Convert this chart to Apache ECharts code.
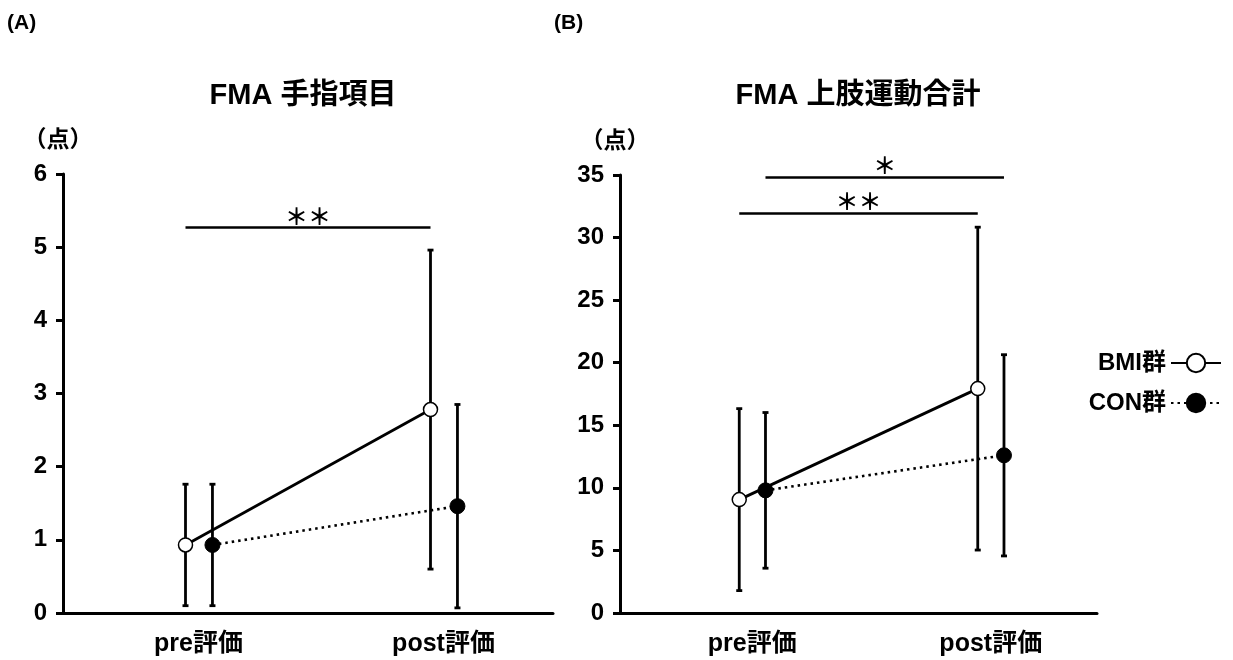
<!DOCTYPE html>
<html>
<head>
<meta charset="utf-8">
<script src="https://cdn.jsdelivr.net/npm/echarts@6/dist/echarts.min.js"></script>
<style>
  html, body { margin: 0; padding: 0; background: #fff; }
  #main { width: 1233px; height: 660px; }
</style>
</head>
<body>
<div id="main"></div>
<script>
// 評価時期
const categories = ['pre評価', 'post評価'];
const groups = ['BMI群', 'CON群'];
// 群ごとの横ずれ（カテゴリ幅に対する比）
const groupOffset = [0, 0.11];

// (A) FMA 手指項目 平均と標準偏差
const fingerBmiMean = [0.93, 2.78];
const fingerBmiSd = [0.83, 2.18];
const fingerConMean = [0.93, 1.46];
const fingerConSd = [0.83, 1.39];

// (B) FMA 上肢運動合計 平均と標準偏差
const totalBmiMean = [9.06, 17.93];
const totalBmiSd = [7.27, 12.9];
const totalConMean = [9.8, 12.6];
const totalConSd = [6.22, 8.04];

// 有意差の表示 [ラベル, 高さ, 始点の群, 終点の群]
const fingerSig = [['＊＊', 5.27, 0, 0]];
const totalSig = [['＊', 34.84, 1, 1], ['＊＊', 31.96, 0, 0]];

const FONT = "Arial, 'Liberation Sans', 'Noto Sans CJK JP', sans-serif";

function xPos(i, g) {
  return i + 0.5 + groupOffset[g];
}

function errRows(mean, sd, g) {
  return mean.map(function (m, i) {
    return [xPos(i, g), m - sd[i], m + sd[i]];
  });
}

function lineRows(mean, g) {
  return mean.map(function (m, i) { return [xPos(i, g), m]; });
}

function renderErr(params, api) {
  let x = api.value(0);
  let top = api.coord([x, api.value(2)]);
  let bot = api.coord([x, api.value(1)]);
  let w = 3;
  let st = { stroke: '#000', lineWidth: 2.8 };
  return {
    type: 'group',
    children: [
      { type: 'line', shape: { x1: top[0], y1: top[1], x2: bot[0], y2: bot[1] }, style: st },
      { type: 'line', shape: { x1: top[0] - w, y1: top[1], x2: top[0] + w, y2: top[1] }, style: st },
      { type: 'line', shape: { x1: bot[0] - w, y1: bot[1], x2: bot[0] + w, y2: bot[1] }, style: st }
    ]
  };
}

function sigLines(list) {
  return list.map(function (s) {
    return [
      { coord: [xPos(0, s[2]), s[1]], label: { formatter: s[0] } },
      { coord: [xPos(1, s[3]), s[1]] }
    ];
  });
}

function catAxis(gi) {
  return {
    type: 'category', gridIndex: gi, data: categories, boundaryGap: true,
    axisLine: { lineStyle: { color: '#000', width: 3 } },
    axisTick: { show: false },
    axisLabel: {
      color: '#000', fontFamily: FONT, fontWeight: 'bold', fontSize: 25,
      margin: 19, padding: [0, 0, 0, 26]
    }
  };
}

function valXAxis(gi) {
  return { type: 'value', gridIndex: gi, min: 0, max: 2, show: false };
}

function yAxis(gi, max, interval) {
  return {
    type: 'value', gridIndex: gi, min: 0, max: max, interval: interval,
    name: '（点）', nameLocation: 'end', nameGap: 22,
    nameTextStyle: { color: '#000', fontFamily: FONT, fontWeight: 'bold', fontSize: 23, padding: [0, 10, 0, 0] },
    axisLine: { show: true, lineStyle: { color: '#000', width: 3 } },
    axisTick: { show: true, length: 7, lineStyle: { color: '#000', width: 3 } },
    splitLine: { show: false },
    axisLabel: { color: '#000', fontFamily: FONT, fontWeight: 'bold', fontSize: 24, margin: 16 }
  };
}

function chartSeries(xi, yi, bmiMean, bmiSd, conMean, conSd, sig) {
  return [
    {
      name: 'err-bmi', type: 'custom', xAxisIndex: xi, yAxisIndex: yi, z: 2,
      renderItem: renderErr, encode: { x: 0, y: [1, 2] },
      data: errRows(bmiMean, bmiSd, 0), silent: true
    },
    {
      name: 'err-con', type: 'custom', xAxisIndex: xi, yAxisIndex: yi, z: 2,
      renderItem: renderErr, encode: { x: 0, y: [1, 2] },
      data: errRows(conMean, conSd, 1), silent: true
    },
    {
      name: groups[1], type: 'line', xAxisIndex: xi, yAxisIndex: yi, z: 3,
      data: lineRows(conMean, 1),
      symbol: 'circle', symbolSize: 15,
      itemStyle: { color: '#000', borderColor: '#000', borderWidth: 1 },
      lineStyle: { color: '#000', width: 2.6, type: [2.5, 4] }
    },
    {
      name: groups[0], type: 'line', xAxisIndex: xi, yAxisIndex: yi, z: 4,
      data: lineRows(bmiMean, 0),
      symbol: 'circle', symbolSize: 14,
      itemStyle: { color: '#fff', borderColor: '#000', borderWidth: 1.5 },
      lineStyle: { color: '#000', width: 2.8 },
      markLine: {
        silent: true, symbol: ['none', 'none'],
        lineStyle: { color: '#000', width: 2.6, type: 'solid' },
        label: {
          show: true, position: 'middle', distance: 0, color: '#000',
          fontFamily: "'Noto Sans CJK JP', sans-serif", fontWeight: 'bold', fontSize: 23
        },
        data: sigLines(sig)
      }
    }
  ];
}

let myChart = echarts.init(document.getElementById('main'));
let option = {
  animation: false,
  backgroundColor: '#fff',
  grid: [
    { left: 63, right: 680, top: 174, bottom: 47 },
    { left: 620, right: 136, top: 175, bottom: 47 }
  ],
  xAxis: [catAxis(0), valXAxis(0), catAxis(1), valXAxis(1)],
  yAxis: [yAxis(0, 6, 1), yAxis(1, 35, 5)],
  legend: {
    data: groups, orient: 'vertical', right: 6, top: 346, align: 'right',
    itemWidth: 50, itemHeight: 23, itemGap: 16,
    textStyle: { color: '#000', fontFamily: FONT, fontWeight: 'bold', fontSize: 24 }
  },
  graphic: [
    { type: 'text', left: 7, top: 13, style: { text: '(A)', fill: '#000', font: 'bold 21px ' + FONT } },
    { type: 'text', left: 554, top: 13, style: { text: '(B)', fill: '#000', font: 'bold 21px ' + FONT } },
    { type: 'text', x: 303, y: 96, style: { text: 'FMA 手指項目', fill: '#000', font: 'bold 29px ' + FONT, align: 'center', verticalAlign: 'middle' } },
    { type: 'text', x: 858, y: 96, style: { text: 'FMA 上肢運動合計', fill: '#000', font: 'bold 29px ' + FONT, align: 'center', verticalAlign: 'middle' } }
  ],
  series: chartSeries(1, 0, fingerBmiMean, fingerBmiSd, fingerConMean, fingerConSd, fingerSig)
    .concat(chartSeries(3, 1, totalBmiMean, totalBmiSd, totalConMean, totalConSd, totalSig))
};
myChart.setOption(option);
</script>
</body>
</html>
